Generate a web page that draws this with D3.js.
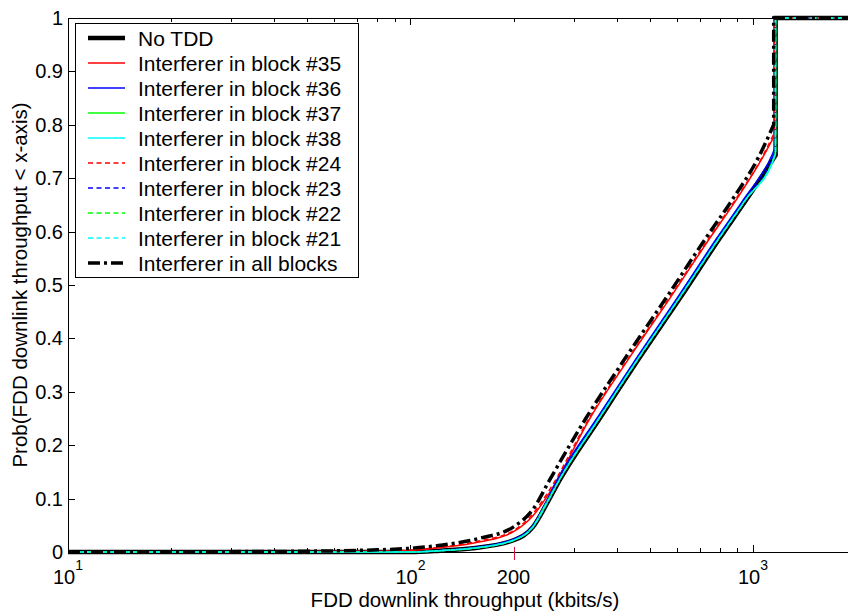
<!DOCTYPE html>
<html>
<head>
<meta charset="utf-8">
<script src="https://cdn.jsdelivr.net/npm/d3@7"></script>
<style>
  body { margin: 0; background: #fff; }
  svg { display: block; font-family: Arial, "Liberation Sans", sans-serif; }
</style>
</head>
<body>
<div id="chart"></div>
<script>
// x axis (log), y axis ticks
var xDomain = [10, 2000];
var xMajorTicks = [10, 100, 1000];
var xMarkTick = 200;
var yTicks = [0, 0.1, 0.2, 0.3, 0.4, 0.5, 0.6, 0.7, 0.8, 0.9, 1];
var yTickLabels = ["0", "0.1", "0.2", "0.3", "0.4", "0.5", "0.6", "0.7", "0.8", "0.9", "1"];

// CDF curves: [throughput kbits/s, probability]
var noTDD = [[10,0],[100,0],[122,0.0025],[152,0.007],[200,0.022],[228,0.047],[250,0.09],[273,0.135],
  [357,0.25],[468,0.365],[612,0.475],[801,0.588],[955,0.659],[1165,0.743],[1165,1],[2000,1]];
var blk35 = [[10,0],[70,0.001],[100,0.003],[122,0.008],[160,0.019],[200,0.038],[228,0.068],[260,0.12],
  [334,0.25],[437,0.365],[572,0.475],[749,0.588],[893,0.659],[1070,0.74],[1157,0.78],[1157,1],[2000,1]];
var blk36 = [[10,0],[100,0],[122,0.003],[152,0.008],[200,0.024],[228,0.05],[248,0.092],[268,0.135],
  [350,0.25],[459,0.365],[600,0.475],[785,0.588],[936,0.659],[1140,0.745],[1162,0.758],[1162,1],[2000,1]];
var blk37 = [[10,0],[100,0],[122,0.0025],[152,0.007],[200,0.022],[228,0.048],[249,0.091],[272,0.135],
  [355,0.25],[465,0.365],[608,0.475],[796,0.588],[949,0.659],[1160,0.745],[1164,0.75],[1164,1],[2000,1]];
var blk38 = [[10,0],[100,0],[122,0.0025],[152,0.007],[200,0.022],[228,0.047],[250,0.091],[272,0.135],
  [355,0.25],[465,0.365],[608,0.475],[796,0.588],[950,0.659],[1160,0.743],[1164,0.746],[1164,1],[2000,1]];
var blk24 = [[10,0],[60,0.001],[95,0.003],[122,0.009],[160,0.021],[200,0.04],[228,0.072],[258,0.122],
  [332,0.25],[435,0.365],[568,0.475],[744,0.588],[887,0.659],[1065,0.74],[1155,0.785],[1155,1],[2000,1]];
var blk23 = [[10,0],[100,0],[122,0.003],[152,0.008],[200,0.023],[228,0.049],[249,0.092],[270,0.135],
  [352,0.25],[462,0.365],[604,0.475],[790,0.588],[942,0.659],[1150,0.745],[1162,0.755],[1162,1],[2000,1]];
var blk22 = [[10,0],[100,0],[122,0.0025],[152,0.007],[200,0.022],[228,0.048],[249,0.091],[272,0.135],
  [355,0.25],[466,0.365],[609,0.475],[797,0.588],[950,0.659],[1160,0.745],[1164,0.748],[1164,1],[2000,1]];
var blk21 = [[10,0],[100,0],[122,0.0025],[152,0.007],[200,0.022],[228,0.047],[250,0.091],[272,0.135],
  [355,0.25],[465,0.365],[608,0.475],[797,0.588],[951,0.659],[1160,0.743],[1164,0.746],[1164,1],[2000,1]];
var blkAll = [[10,0],[40,0.001],[80,0.004],[122,0.0125],[160,0.026],[200,0.047],[228,0.08],[255,0.135],
  [325,0.25],[426,0.365],[557,0.475],[729,0.588],[869,0.659],[1040,0.74],[1150,0.8],[1150,1],[2000,1]];

var seriesNames = ["No TDD", "Interferer in block #35", "Interferer in block #36", "Interferer in block #37",
  "Interferer in block #38", "Interferer in block #24", "Interferer in block #23", "Interferer in block #22",
  "Interferer in block #21", "Interferer in all blocks"];
var seriesData = [noTDD, blk35, blk36, blk37, blk38, blk24, blk23, blk22, blk21, blkAll];
var seriesColors = ["#000", "#ff0000", "#0000ff", "#00ff00", "#00ffff", "#ff0000", "#0000ff", "#00ff00", "#00ffff", "#000"];
var seriesWidths = [4.5, 1.5, 1.5, 1.5, 1.5, 1.5, 1.5, 1.5, 1.5, 3.5];
var seriesDash = [null, null, null, null, null, "5,3.5", "5,3.5", "5,3.5", "5,3.5", "12,4,3,4"];

var W = 848, H = 615;
var pLeft = 68, pTop = 18, pRight = 856, pBottom = 552;

var svg = d3.select("#chart").append("svg")
  .attr("width", W).attr("height", H);

var x = d3.scaleLog().domain(xDomain).range([pLeft, pRight]);
var y = d3.scaleLinear().domain([0, 1]).range([pBottom, pTop]);

svg.append("defs").append("clipPath").attr("id", "clip")
  .append("rect").attr("x", pLeft).attr("y", pTop - 4).attr("width", pRight - pLeft).attr("height", pBottom - pTop + 8);

// axes box
svg.append("rect")
  .attr("x", pLeft + 0.5).attr("y", pTop + 0.5).attr("width", pRight - pLeft).attr("height", pBottom - pTop)
  .style("fill", "none").style("stroke", "#000").style("stroke-width", 1);

// x ticks (bottom and top, pointing inward)
var xt = x.ticks();
var ticks = svg.append("g").style("stroke", "#000").style("stroke-width", 1);
xt.forEach(function(v) {
  var major = xMajorTicks.indexOf(v) >= 0;
  var len = major ? 7 : 4;
  var px = Math.round(x(v)) + 0.5;
  ticks.append("line").attr("x1", px).attr("x2", px).attr("y1", pBottom).attr("y2", pBottom - len);
  ticks.append("line").attr("x1", px).attr("x2", px).attr("y1", pTop).attr("y2", pTop + len);
});

// y ticks
yTicks.forEach(function(v) {
  var py = Math.round(y(v)) + 0.5;
  ticks.append("line").attr("x1", pLeft).attr("x2", pLeft + 7).attr("y1", py).attr("y2", py);
  ticks.append("line").attr("x1", pRight).attr("x2", pRight - 7).attr("y1", py).attr("y2", py);
});

// y tick labels
svg.append("g").selectAll("text")
  .data(yTicks)
  .enter().append("text")
  .attr("x", pLeft - 5)
  .attr("y", function(d) { return y(d) + 7; })
  .attr("text-anchor", "end")
  .style("font-size", "20px")
  .text(function(d, i) { return yTickLabels[i]; });

// x tick labels as 10^k
xMajorTicks.forEach(function(v) {
  var t = svg.append("text")
    .attr("x", x(v))
    .attr("y", 584)
    .attr("text-anchor", "middle")
    .style("font-size", "20px");
  t.append("tspan").text("10");
  t.append("tspan").attr("dy", -14).style("font-size", "14px").text(String(Math.round(Math.log10(v))));
});

// the 200 mark
svg.append("line")
  .attr("x1", Math.round(x(xMarkTick)) + 0.5).attr("x2", Math.round(x(xMarkTick)) + 0.5)
  .attr("y1", pBottom - 5).attr("y2", pBottom + 8)
  .style("stroke", "#dc143c").style("stroke-width", 1);
svg.append("text")
  .attr("x", x(xMarkTick)).attr("y", 584)
  .attr("text-anchor", "middle")
  .style("font-size", "20px")
  .text(String(xMarkTick));

// axis labels
svg.append("text")
  .attr("x", (pLeft + pRight) / 2 + 3).attr("y", 607)
  .attr("text-anchor", "middle")
  .style("font-size", "20.5px")
  .text("FDD downlink throughput (kbits/s)");

svg.append("text")
  .attr("transform", "translate(27," + ((pTop + pBottom) / 2) + ") rotate(-90)")
  .attr("text-anchor", "middle")
  .style("font-size", "20.5px")
  .text("Prob(FDD downlink throughput < x-axis)");

// curves: smooth rising part, then the straight step up to 1
var smooth = d3.line()
  .x(function(d) { return x(d[0]); })
  .y(function(d) { return y(d[1]); })
  .curve(d3.curveMonotoneX);
var straight = d3.line()
  .x(function(d) { return x(d[0]); })
  .y(function(d) { return y(d[1]); });

var curves = svg.append("g").attr("clip-path", "url(#clip)");
seriesData.forEach(function(s, i) {
  var k = s.findIndex(function(d) { return d[1] === 1; });
  var rise = s.slice(0, k);
  var tail = s.slice(k - 1);
  var d = smooth(rise) + straight(tail).replace(/^M/, "L");
  curves.append("path")
    .attr("d", d)
    .style("fill", "none")
    .style("stroke", seriesColors[i])
    .style("stroke-width", seriesWidths[i])
    .style("stroke-dasharray", seriesDash[i])
    .style("stroke-linejoin", "miter");
});

// legend
var lg = svg.append("g");
lg.append("rect")
  .attr("x", 75.5).attr("y", 23.5).attr("width", 283).attr("height", 254)
  .style("fill", "#fff").style("stroke", "#000").style("stroke-width", 1);

seriesNames.forEach(function(name, i) {
  var ly = 38 + i * 25;
  lg.append("line")
    .attr("x1", 88).attr("x2", 125).attr("y1", ly).attr("y2", ly)
    .style("stroke", seriesColors[i])
    .style("stroke-width", seriesWidths[i])
    .style("stroke-dasharray", seriesDash[i]);
  lg.append("text")
    .attr("x", 138).attr("y", ly + 7.5)
    .style("font-size", "21px")
    .text(name);
});
</script>
</body>
</html>
